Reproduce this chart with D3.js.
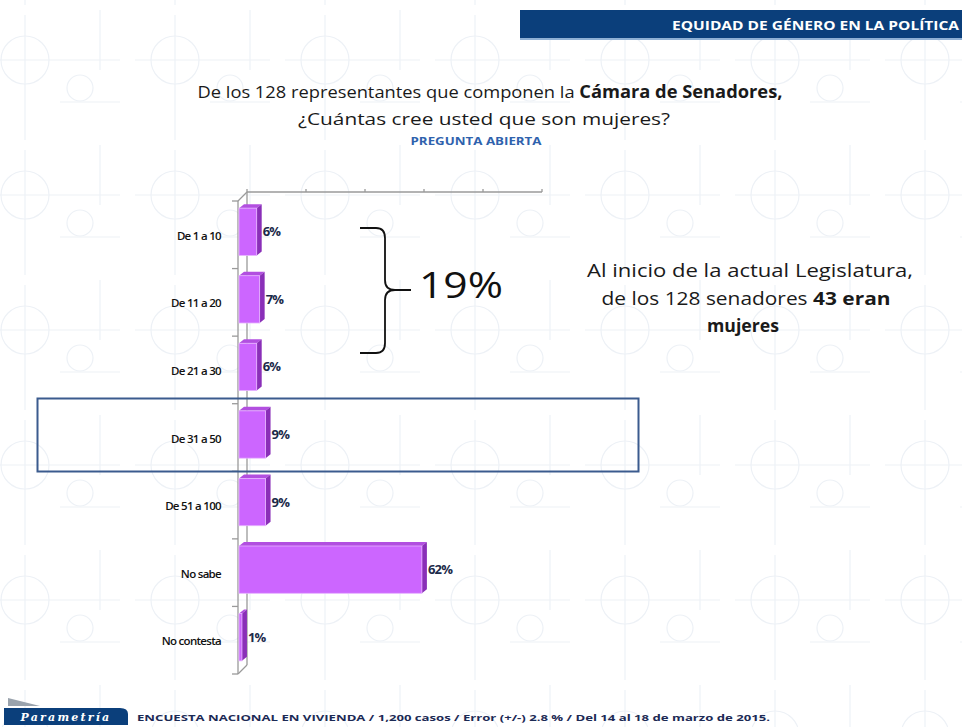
<!DOCTYPE html>
<html><head><meta charset="utf-8">
<script src="https://cdn.jsdelivr.net/npm/d3@7"></script>
<style>html,body{margin:0;padding:0;background:#fff;}svg{display:block;}</style>
</head><body>
<script>
const categories = ["De 1 a 10","De 11 a 20","De 21 a 30","De 31 a 50","De 51 a 100","No sabe","No contesta"];
const values = [6,7,6,9,9,62,1];
const valueLabels = ["6%","7%","6%","9%","9%","62%","1%"];
const xTicks = [0,20,40,60,80,100];

const W=962,H=727;
const svg=d3.select("body").append("svg").attr("width",W).attr("height",H);
const defs=svg.append("defs");

// faint watermark pattern
const pat=defs.append("pattern").attr("id","wm").attr("patternUnits","userSpaceOnUse")
  .attr("width",150).attr("height",135).attr("x",-20).attr("y",10);
const pg=pat.append("g").attr("fill","none").attr("stroke","#edf1f6").attr("stroke-width",1.2);
pg.append("circle").attr("cx",45).attr("cy",50).attr("r",24);
pg.append("circle").attr("cx",100).attr("cy",78).attr("r",13);
pg.append("line").attr("x1",45).attr("y1",5).attr("x2",45).attr("y2",130);
pg.append("line").attr("x1",5).attr("y1",50).attr("x2",140).attr("y2",50);
pg.append("line").attr("x1",80).attr("y1",92).attr("x2",140).attr("y2",92);
pg.append("line").attr("x1",120).attr("y1",0).attr("x2",120).attr("y2",60);
svg.append("rect").attr("width",W).attr("height",H).attr("fill","url(#wm)");

// header band
svg.append("rect").attr("x",520).attr("y",10).attr("width",W-520).attr("height",28).attr("fill","#0b3f7b");
svg.append("rect").attr("x",520).attr("y",38).attr("width",W-520).attr("height",2).attr("fill","#8fb0d4");
svg.append("text").attr("x",959).attr("y",30).attr("text-anchor","end")
  .attr("font-family","Open Sans, sans-serif").attr("font-weight","bold").attr("font-size",13)
  .attr("fill","#fff").attr("textLength",287).attr("lengthAdjust","spacingAndGlyphs")
  .text("EQUIDAD  DE GÉNERO  EN  LA POLÍTICA");

// title
const t1=svg.append("text").attr("x",490).attr("y",98).attr("text-anchor","middle")
  .attr("font-family","Open Sans, sans-serif").attr("font-size",17).attr("fill","#1a1a1a")
  .attr("textLength",585).attr("lengthAdjust","spacingAndGlyphs");
t1.append("tspan").text("De los 128 representantes que componen la ");
t1.append("tspan").attr("font-weight","bold").text("Cámara de Senadores,");
svg.append("text").attr("x",484).attr("y",125).attr("text-anchor","middle")
  .attr("font-family","Open Sans, sans-serif").attr("font-size",17).attr("fill","#1a1a1a")
  .attr("textLength",372).attr("lengthAdjust","spacingAndGlyphs")
  .text("¿Cuántas cree usted que son mujeres?");
svg.append("text").attr("x",476).attr("y",145).attr("text-anchor","middle")
  .attr("font-family","Open Sans, sans-serif").attr("font-weight","bold").attr("font-size",10)
  .attr("fill","#2f62ad").attr("textLength",131).attr("lengthAdjust","spacingAndGlyphs")
  .text("PREGUNTA ABIERTA");

// chart geometry
const frontX0=239, backX0=247, depthY=-9;
const x=d3.scaleLinear().domain([0,100]).range([frontX0,frontX0+295]);
const xb=d3.scaleLinear().domain([0,100]).range([backX0,backX0+295]);
const y=d3.scaleBand().domain(categories).range([201,674]).paddingInner(0.3).paddingOuter(0.15);
const yTop=201, yBot=674;

const ax=svg.append("g").attr("stroke","#9a9a9a").attr("fill","none").attr("stroke-width",1.3);
ax.append("line").attr("x1",xb(0)).attr("y1",yTop+depthY).attr("x2",xb(100)).attr("y2",yTop+depthY);
xTicks.forEach(t=>ax.append("line").attr("x1",xb(t)).attr("x2",xb(t)).attr("y1",yTop+depthY-3).attr("y2",yTop+depthY));
ax.append("line").attr("x1",xb(0)).attr("x2",xb(0)).attr("y1",yTop+depthY).attr("y2",yBot+depthY);
ax.append("line").attr("x1",frontX0-1).attr("x2",frontX0-1).attr("y1",yTop).attr("y2",yBot);
ax.append("line").attr("x1",frontX0-1).attr("y1",yTop).attr("x2",xb(0)).attr("y2",yTop+depthY);
ax.append("line").attr("x1",frontX0-1).attr("y1",yBot).attr("x2",xb(0)).attr("y2",yBot+depthY);
const step=(yBot-yTop)/categories.length;
d3.range(categories.length+1).forEach(i=>{
  const yy=yTop+i*step;
  ax.append("line").attr("x1",frontX0-7).attr("x2",frontX0-1).attr("y1",yy).attr("y2",yy);
});

// bars (3D)
const bd=5, bdy=-4;
const bars=svg.append("g");
categories.forEach((c,i)=>{
  const v=values[i];
  const x0=x(0), x1=x(v), y0=y(c)-3, h=y.bandwidth();
  const g=bars.append("g");
  g.append("path").attr("d",`M${x0},${y0} L${x0+bd},${y0+bdy} L${x1+bd},${y0+bdy} L${x1},${y0} Z`)
    .attr("fill","#b24fe0");
  g.append("path").attr("d",`M${x1},${y0} L${x1+bd},${y0+bdy} L${x1+bd},${y0+h+bdy} L${x1},${y0+h} Z`)
    .attr("fill","#8a2fb8");
  g.append("rect").attr("x",x0).attr("y",y0).attr("width",x1-x0).attr("height",h)
    .attr("fill","#cc66ff").attr("stroke","#e6b3ff").attr("stroke-width",0.8);
  svg.append("text").attr("x",x1+bd+1).attr("y",y0+h/2+1)
    .attr("font-family","Open Sans, sans-serif").attr("font-weight","bold").attr("font-size",13)
    .attr("fill","#1c2a4a").attr("dominant-baseline","middle").attr("letter-spacing",-0.8)
    .text(valueLabels[i]);
  svg.append("text").attr("x",221).attr("y",y0+h/2+5)
    .attr("text-anchor","end").attr("font-family","Open Sans, sans-serif").attr("font-size",11.5)
    .attr("font-weight",600)
    .attr("fill","#111").attr("dominant-baseline","middle").attr("letter-spacing",-0.7)
    .text(c);
});

// highlight box
svg.append("rect").attr("x",37.5).attr("y",398.5).attr("width",601).attr("height",73)
  .attr("fill","none").attr("stroke","#3b5b8e").attr("stroke-width",2);

// brace
svg.append("path").attr("d","M360,228 L376,228 Q385,228 385,238 L385,280 Q385,290 395,290 L411,290 M395,290 Q385,290 385,300 L385,343 Q385,353 376,353 L360,353")
  .attr("fill","none").attr("stroke","#111").attr("stroke-width",1.8);
svg.append("text").attr("x",419).attr("y",298).attr("font-family","Open Sans, sans-serif")
  .attr("font-size",36).attr("fill","#111").attr("textLength",84).attr("lengthAdjust","spacingAndGlyphs").text("19%");

// right annotation
const rt={family:"Open Sans, sans-serif",size:18};
svg.append("text").attr("x",750).attr("y",277).attr("text-anchor","middle")
  .attr("font-family",rt.family).attr("font-size",rt.size).attr("fill","#1a1a1a")
  .attr("textLength",326).attr("lengthAdjust","spacingAndGlyphs").text("Al inicio de la actual Legislatura,");
const l2=svg.append("text").attr("x",746).attr("y",305).attr("text-anchor","middle")
  .attr("font-family",rt.family).attr("font-size",rt.size).attr("fill","#1a1a1a")
  .attr("textLength",289).attr("lengthAdjust","spacingAndGlyphs");
l2.append("tspan").text("de los 128 senadores ");
l2.append("tspan").attr("font-weight","bold").text("43 eran");
svg.append("text").attr("x",743).attr("y",332).attr("text-anchor","middle")
  .attr("font-family",rt.family).attr("font-size",rt.size).attr("font-weight","bold").attr("fill","#1a1a1a")
  .attr("textLength",72).attr("lengthAdjust","spacingAndGlyphs").text("mujeres");

// footer
svg.append("path").attr("d","M8,698 L40,706 L8,706 Z").attr("fill","#9aa3ad");
svg.append("path").attr("d","M4,708 L120,708 Q128,708 128,714 L128,725 L4,725 Z").attr("fill","#0b3f7b");
svg.append("text").attr("x",66).attr("y",721).attr("text-anchor","middle")
  .attr("font-family","DejaVu Serif, serif").attr("font-style","italic").attr("font-weight","bold")
  .attr("font-size",11).attr("fill","#fff").attr("letter-spacing",2.2).text("Parametría");
svg.append("text").attr("x",137).attr("y",721)
  .attr("font-family","Open Sans, sans-serif").attr("font-weight","bold").attr("font-size",9)
  .attr("fill","#1c2a55").attr("textLength",633).attr("lengthAdjust","spacingAndGlyphs")
  .text("ENCUESTA  NACIONAL EN VIVIENDA  / 1,200 casos / Error (+/-) 2.8 % / Del 14 al 18 de marzo de 2015.");
</script>
</body></html>
